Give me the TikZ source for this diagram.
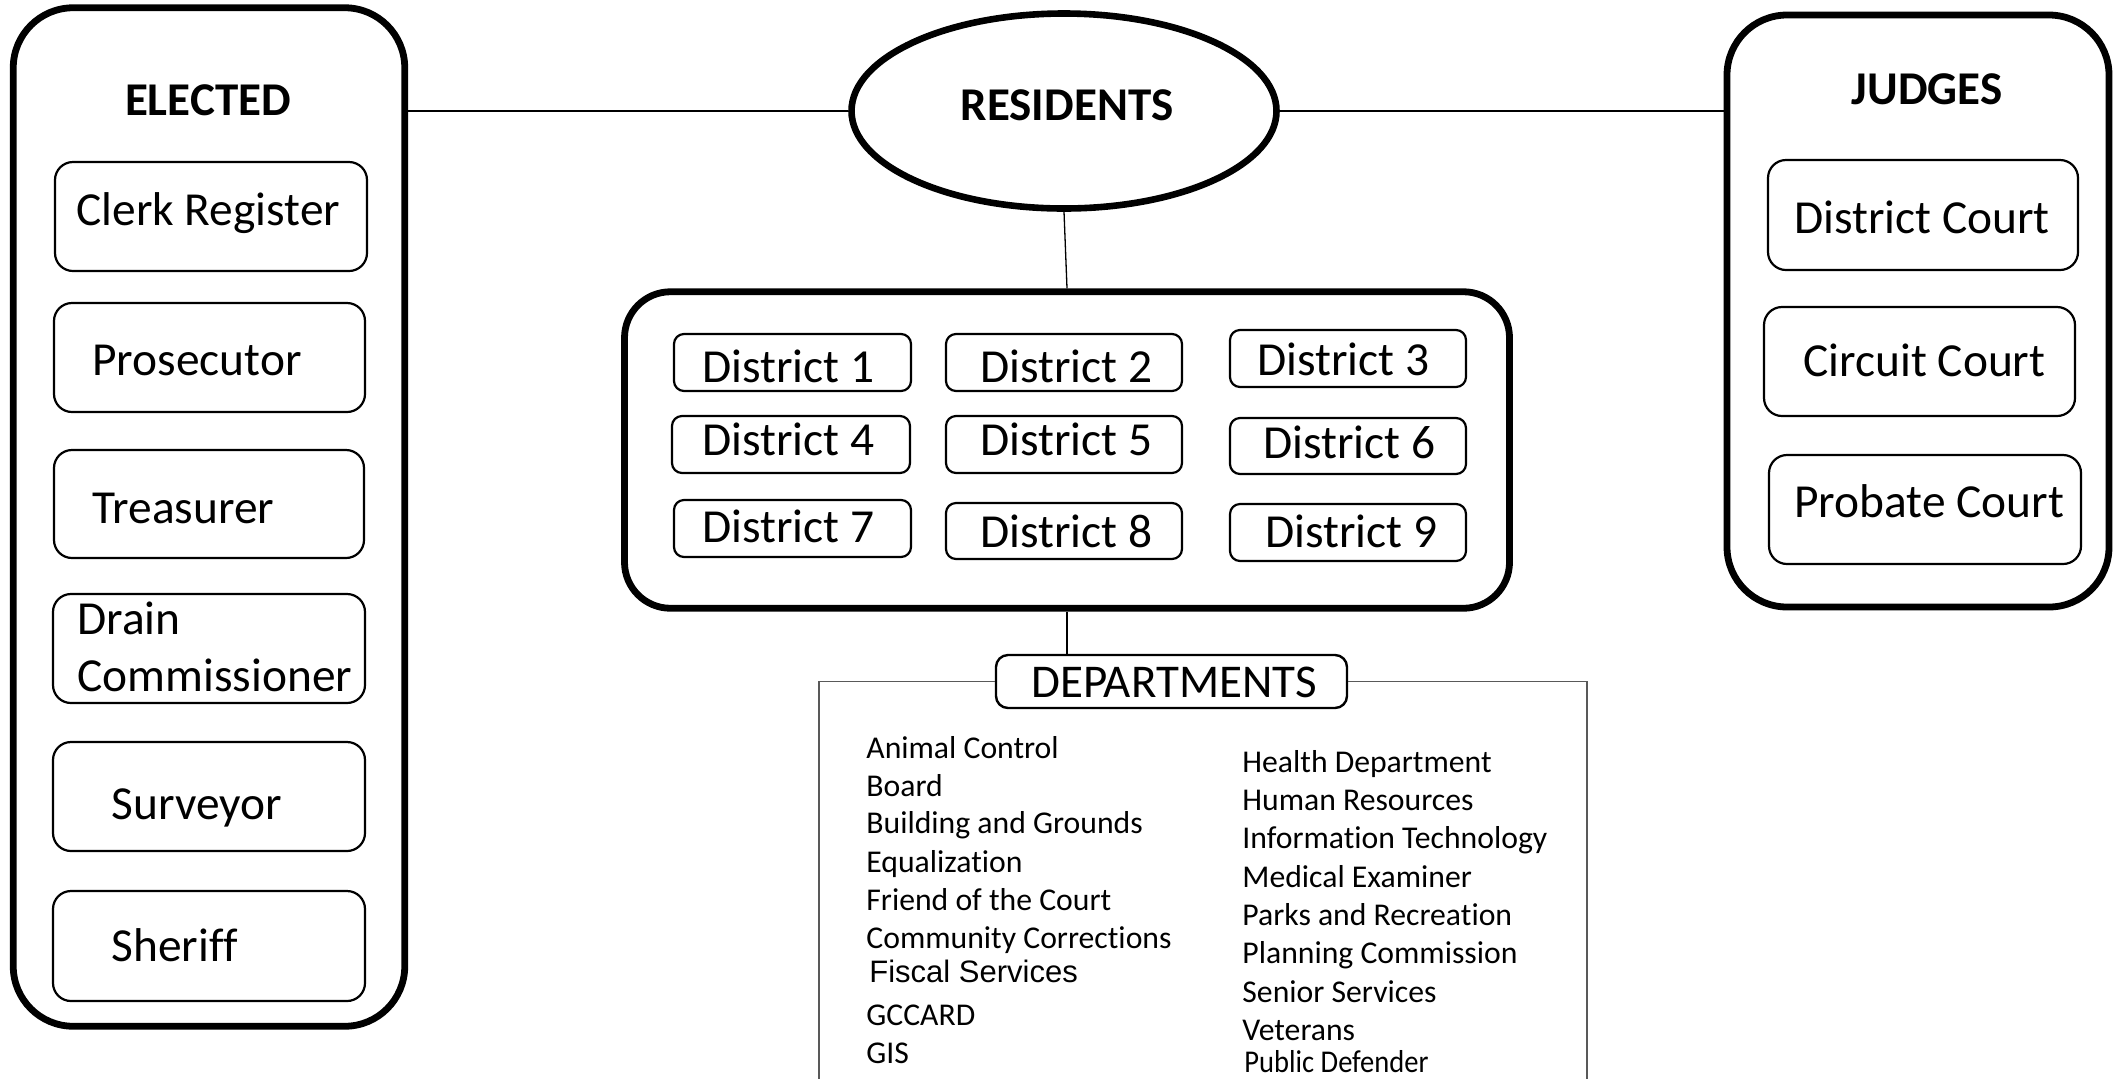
\documentclass[tikz,border=0pt]{standalone}
\usepackage{fontspec}
\setmainfont{Carlito}[Ligatures=CommonOff]
\newfontfamily\arialf{Liberation Sans}[Ligatures=CommonOff]
\usetikzlibrary{shapes.geometric}
\begin{document}
\begin{tikzpicture}[x=0.5pt,y=-0.5pt,
  sz/.style 2 args={minimum width=#1*0.5pt, minimum height=#2*0.5pt},
  bigframe/.style={draw, line width=3.4pt, rounded corners=30pt, inner sep=0pt},
  item/.style={draw, line width=1.1pt, rounded corners=9pt, inner sep=0pt},
  dbox/.style={draw, line width=1.1pt, rounded corners=5pt, inner sep=0pt},
  lbl/.style={anchor=base west, inner sep=0pt, font=\fontsize{23.7}{28}\selectfont},
  head/.style={anchor=base, inner sep=0pt, font=\fontsize{23.5}{28}\selectfont\bfseries},
  dept/.style={anchor=base west, inner sep=0pt, font=\fontsize{15.85}{19}\selectfont},
  conn/.style={draw, line width=0.65pt},
  frame/.style={draw=black!65, line width=0.8pt}
]
\useasboundingbox (0,0) rectangle (2113,1078);

% ELECTED
\node[bigframe, sz={391.5}{1018.5}] (elected) at (209,517) {};
\node[head] (electedt) at (208,115) {ELECTED};
\node[item, sz={312}{109}] (clerk) at (211,216.5) {};
\node[lbl] (clerkt) at (76,225) {Clerk Register};
\node[item, sz={311}{109}] (pros) at (209.5,357.5) {};
\node[lbl] (prost) at (92,375) {Prosecutor};
\node[item, sz={310}{108}] (treas) at (209,504) {};
\node[lbl] (treast) at (92,523) {Treasurer};
\node[item, sz={312}{109}] (drain) at (209,648.5) {};
\node[lbl] (draint1) at (77,634) {Drain};
\node[lbl] (draint2) at (77,691) {Commissioner};
\node[item, sz={312}{109}] (surv) at (209,796.5) {};
\node[lbl] (survt) at (111,819) {Surveyor};
\node[item, sz={312}{110}] (sher) at (209,946) {};
\node[lbl] (shert) at (111,961) {Sheriff};

% RESIDENTS
\node[ellipse, draw, line width=3.3pt, sz={425}{195}, inner sep=0pt] (res) at (1064,111) {};
\node[head] (rest) at (1067,120) {RESIDENTS};

% JUDGES
\node[bigframe, sz={382}{592}] (judges) at (1918,311) {};
\node[head] (judgest) at (1927,104) {JUDGES};
\node[item, sz={310}{110}] (dc) at (1923,215) {};
\node[lbl] (dct) at (1794,233) {District Court};
\node[item, sz={311}{109}] (cc) at (1919.5,361.5) {};
\node[lbl] (cct) at (1803,376) {Circuit Court};
\node[item, sz={312}{109}] (pc) at (1925,509.5) {};
\node[lbl] (pct) at (1794,517) {Probate Court};

% DISTRICTS
\node[bigframe, rounded corners=23pt, sz={885}{316.5}] (dist) at (1067,450) {};
\node[dbox, sz={237}{57}] (d1) at (792.5,362.5) {};
\node[dbox, sz={236}{57}] (d2) at (1064,362.5) {};
\node[dbox, sz={236}{57}] (d3) at (1348,358.5) {};
\node[dbox, sz={238}{57}] (d4) at (791,444.5) {};
\node[dbox, sz={236}{57}] (d5) at (1064,444.5) {};
\node[dbox, sz={236}{56}] (d6) at (1348,446) {};
\node[dbox, sz={237}{57}] (d7) at (792.5,528.5) {};
\node[dbox, sz={236}{56}] (d8) at (1064,531) {};
\node[dbox, sz={236}{57}] (d9) at (1348,532.5) {};
\node[lbl] (d1t) at (702,382) {District 1};
\node[lbl] (d2t) at (980,382) {District 2};
\node[lbl] (d3t) at (1257,375) {District 3};
\node[lbl] (d4t) at (702,455) {District 4};
\node[lbl] (d5t) at (980,455) {District 5};
\node[lbl] (d6t) at (1263,458) {District 6};
\node[lbl] (d7t) at (702,542) {District 7};
\node[lbl] (d8t) at (980,547) {District 8};
\node[lbl] (d9t) at (1265,547) {District 9};

% DEPARTMENTS
\node[dbox, line width=1.2pt, rounded corners=6pt, sz={351}{53}] (dept) at (1171.5,681.5) {};
\node[anchor=base, inner sep=0pt, font=\fontsize{23.5}{28}\selectfont] (deptt) at (1174,697) {DEPARTMENTS};
\coordinate (fl) at (819,1095);
\coordinate (fr) at (1587,1095);
\draw[frame] (fl) |- (dept.west);
\draw[frame] (dept.east) -| (fr);

\node[dept] (l1) at (866,758) {Animal Control};
\node[dept] (l2) at (866,796) {Board};
\node[dept] (l3) at (866,833) {Building and Grounds};
\node[dept] (l4) at (866,872) {Equalization};
\node[dept] (l5) at (866,910) {Friend of the Court};
\node[dept] (l6) at (866,948) {Community Corrections};
\node[dept, font=\arialf\fontsize{15.5}{19}\selectfont] (l7) at (869,982) {Fiscal Services};
\node[dept] (l8) at (866,1025) {GCCARD};
\node[dept] (l9) at (866,1063) {GIS};

\node[dept] (r1) at (1242,772) {Health Department};
\node[dept] (r2) at (1242,810) {Human Resources};
\node[dept] (r3) at (1242,848) {Information Technology};
\node[dept] (r4) at (1242,887) {Medical Examiner};
\node[dept] (r5) at (1242,925) {Parks and Recreation};
\node[dept] (r6) at (1242,963) {Planning Commission};
\node[dept] (r7) at (1242,1002) {Senior Services};
\node[dept] (r8) at (1242,1040) {Veterans};
\node[dept] (r9) at (1244,1072) {\scalebox{0.9}[1]{Public Defender}};

% connectors
\draw[conn] (elected.east |- res.west) -- (res.west);
\draw[conn] (res.east) -- (judges.west |- res.east);
\draw[conn] (res.south) -- (dist.north);
\draw[conn] (dist.south) -- (dist.south |- dept.north);
\end{tikzpicture}
\end{document}
